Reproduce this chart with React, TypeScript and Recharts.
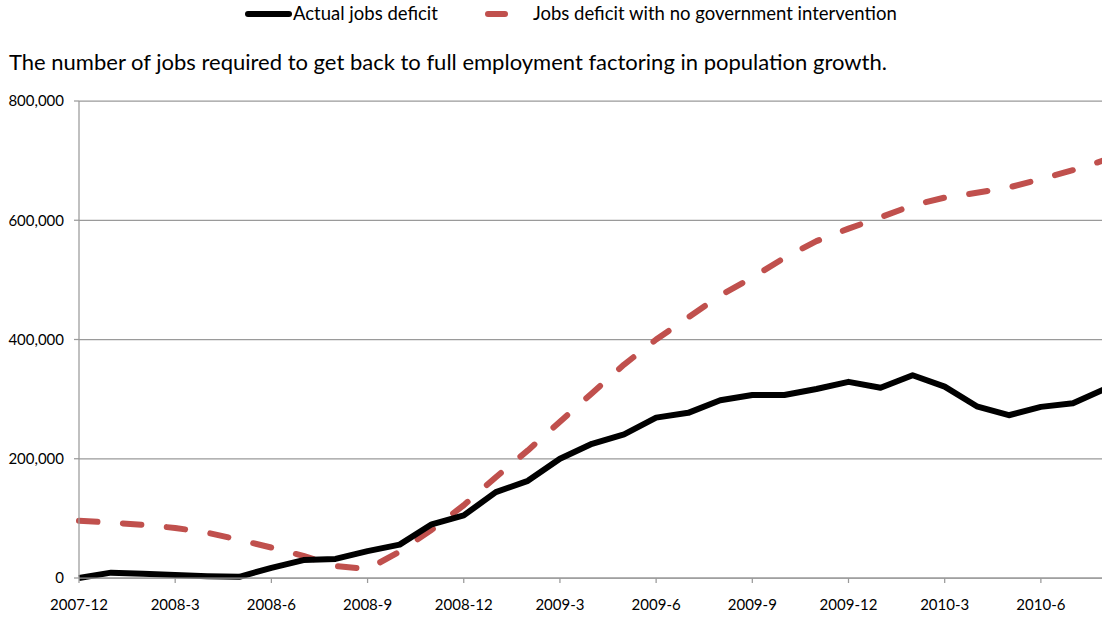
import { LineChart, Line, XAxis, YAxis, CartesianGrid } from 'recharts';

const months = [
    '2007-12', '2008-1', '2008-2', '2008-3', '2008-4', '2008-5', '2008-6', '2008-7', '2008-8',
    '2008-9', '2008-10', '2008-11', '2008-12', '2009-1', '2009-2', '2009-3', '2009-4', '2009-5',
    '2009-6', '2009-7', '2009-8', '2009-9', '2009-10', '2009-11', '2009-12', '2010-1', '2010-2',
    '2010-3', '2010-4', '2010-5', '2010-6', '2010-7', '2010-8',
];

const actualDeficit = [
    0, 9000, 7000, 5000, 3000, 2000, 17000, 30000, 32000,
    45000, 56000, 90000, 105000, 144000, 163000, 200000, 225000, 241000,
    269000, 277000, 298000, 307000, 307000, 317000, 329000, 319000, 340000,
    321000, 288000, 273000, 287000, 293000, 317000,
];

const noInterventionDeficit = [
    96000, 93000, 89000, 84000, 76000, 64000, 51000, 37000, 20000,
    15000, 44000, 81000, 122000, 169000, 214000, 262000, 310000, 358000,
    400000, 437000, 474000, 504000, 537000, 565000, 586000, 605000, 625000,
    638000, 646000, 655000, 669000, 684000, 701000,
];

const yTicks = [0, 200000, 400000, 600000, 800000];

const data = months.map((month, i) => ({
    month,
    actual: actualDeficit[i],
    noIntervention: noInterventionDeficit[i],
}));

const FONT = 'Lato, "Open Sans", sans-serif';
const GRID = '#9a9a9a';
const RED = '#c0504d';

const formatJobs = (value: number) => value.toLocaleString('en-US');

export default function App() {
    return (
        <div
            style={{
                position: 'absolute',
                left: 0,
                top: 0,
                width: 1102,
                height: 620,
                overflow: 'hidden',
                background: '#fff',
                fontFamily: FONT,
                color: '#000',
            }}
        >
            {/* legend */}
            <div style={{ position: 'absolute', top: 2, left: 0, height: 24, width: 1102, fontSize: 18.5 }}>
                <svg width={1102} height={24} style={{ position: 'absolute', left: 0, top: 0 }}>
                    <line x1={248} y1={12} x2={289} y2={12} stroke="#000" strokeWidth={6} strokeLinecap="round" />
                    <line x1={488} y1={12} x2={505} y2={12} stroke={RED} strokeWidth={6} strokeLinecap="round" />
                </svg>
                <span style={{ position: 'absolute', left: 293, top: 0 }}>Actual jobs deficit</span>
                <span style={{ position: 'absolute', left: 533, top: 0 }}>Jobs deficit with no government intervention</span>
            </div>

            {/* title */}
            <div style={{ position: 'absolute', top: 48, left: 9, fontSize: 22, whiteSpace: 'nowrap' }}>
                The number of jobs required to get back to full employment factoring in population growth.
            </div>

            <LineChart
                width={1110}
                height={620}
                data={data}
                margin={{ top: 101, right: 5, bottom: 12, left: 1 }}
                style={{ position: 'absolute', left: 0, top: 0 }}
            >
                <CartesianGrid vertical={false} stroke={GRID} strokeWidth={1.25} />
                <XAxis
                    dataKey="month"
                    interval={2}
                    height={30}
                    tick={{ fill: '#000', fontSize: 15, fontFamily: FONT }}
                    tickLine={{ stroke: GRID, strokeWidth: 1.25 }}
                    axisLine={{ stroke: GRID, strokeWidth: 1.25 }}
                    tickSize={5}
                    tickMargin={16}
                />
                <YAxis
                    width={78}
                    domain={[0, 800000]}
                    ticks={yTicks}
                    tickFormatter={formatJobs}
                    tick={{ fill: '#000', fontSize: 15, fontFamily: FONT }}
                    tickLine={{ stroke: GRID, strokeWidth: 1.25 }}
                    axisLine={{ stroke: GRID, strokeWidth: 1.25 }}
                    tickSize={5}
                    tickMargin={10}
                />
                <Line
                    type="linear"
                    dataKey="noIntervention"
                    stroke={RED}
                    strokeWidth={6}
                    strokeDasharray="18.5 25.5"
                    strokeLinecap="round"
                    strokeLinejoin="round"
                    dot={false}
                    activeDot={false}
                    isAnimationActive={false}
                />
                <Line
                    type="linear"
                    dataKey="actual"
                    stroke="#000"
                    strokeWidth={6}
                    strokeLinejoin="round"
                    dot={false}
                    activeDot={false}
                    isAnimationActive={false}
                />
            </LineChart>
        </div>
    );
}
